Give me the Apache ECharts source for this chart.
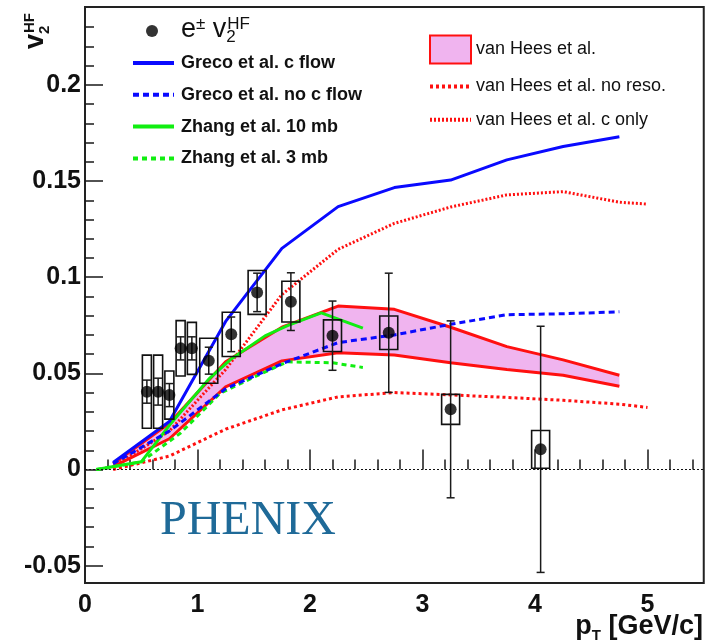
<!DOCTYPE html>
<html>
<head>
<meta charset="utf-8">
<script src="https://cdn.jsdelivr.net/npm/echarts@6/dist/echarts.min.js"></script>
<style>
  html, body { margin: 0; padding: 0; background: #fff; }
  #chart { width: 715px; height: 643px; }
</style>
</head>
<body>
<div id="chart"></div>
<script>
// PHENIX heavy-flavour electron v2 data
const ptX = [0.55, 0.65, 0.75, 0.85, 0.95, 1.1, 1.3, 1.53, 1.83, 2.2, 2.7, 3.25, 4.05];
const v2 = [0.0405, 0.0405, 0.0387, 0.063, 0.063, 0.0566, 0.0703, 0.0921, 0.0873, 0.0696, 0.0711, 0.0313, 0.0105];
const statErr = [0.006, 0.007, 0.006, 0.006, 0.006, 0.007, 0.009, 0.010, 0.015, 0.018, 0.031, 0.046, 0.064];
const sysErr = [0.019, 0.019, 0.0125, 0.0144, 0.0135, 0.0117, 0.0115, 0.0114, 0.0106, 0.0082, 0.0087, 0.0078, 0.0098];

// model curves
const grecoX = [0.25, 0.75, 1.25, 1.75, 2.25, 2.75, 3.25, 3.75, 4.25, 4.75];
const grecoFlow = [0.0037, 0.025, 0.077, 0.115, 0.1367, 0.1466, 0.1505, 0.161, 0.168, 0.173];
const grecoNoFlow = [0.003, 0.02, 0.042, 0.055, 0.066, 0.07, 0.0755, 0.0805, 0.081, 0.082];

const zhang10X = [0.1, 0.5, 0.75, 1.1, 1.3, 1.6, 1.8, 2.1, 2.47];
const zhang10 = [0, 0.004, 0.023, 0.047, 0.0575, 0.0695, 0.0748, 0.0815, 0.0735];
const zhang3X = [0.1, 0.5, 0.85, 1.2, 1.5, 1.8, 2.2, 2.47];
const zhang3 = [0, 0.004, 0.019, 0.0396, 0.048, 0.056, 0.0555, 0.0531];

const vhBandX = [0.25, 0.75, 1.25, 1.75, 2.25, 2.75, 3.25, 3.75, 4.25, 4.75];
const vhUpper = [0.003, 0.024, 0.056, 0.074, 0.085, 0.0833, 0.074, 0.0639, 0.057, 0.049];
const vhLower = [0.0015, 0.016, 0.043, 0.0565, 0.0607, 0.0595, 0.0555, 0.052, 0.049, 0.0433];

const vhX = [0.25, 0.75, 1.25, 1.75, 2.25, 2.75, 3.25, 3.75, 4.25, 4.75, 5.0];
const vhNoReso = [0.0, 0.007, 0.021, 0.031, 0.0378, 0.04, 0.0388, 0.0375, 0.036, 0.034, 0.0323];
const vhCOnly = [0.0015, 0.02, 0.052, 0.091, 0.1145, 0.128, 0.1365, 0.1428, 0.1445, 0.139, 0.138];

// axis ticks
const xTicks = [0, 1, 2, 3, 4, 5];
const yTicks = [-0.05, 0, 0.05, 0.1, 0.15, 0.2];
const yTickLabels = ['-0.05', '0', '0.05', '0.1', '0.15', '0.2'];

const xMinor = [];
for (let i = 0; i <= 27; i++) xMinor.push(+(i * 0.2).toFixed(2));
const yMinor = [];
for (let i = -5; i <= 23; i++) yMinor.push(+(i * 0.01).toFixed(2));

const pairs = (xs, ys) => xs.map((x, i) => [x, ys[i]]);

const EHF = 'e± v2HF';
const RED = '#ff1010';
const BLUE = '#0a0aff';
const GREEN = '#11ee11';
const PINK = '#f0b4ef';
const FONT = '"Liberation Sans", Arial, sans-serif';

const chart = echarts.init(document.getElementById('chart'));

function renderBand(params, api) {
  if (params.dataIndex !== 0) return;
  const pts = [];
  vhBandX.forEach((x, i) => pts.push(api.coord([x, vhUpper[i]])));
  for (let i = vhBandX.length - 1; i >= 0; i--) pts.push(api.coord([vhBandX[i], vhLower[i]]));
  return { type: 'polygon', shape: { points: pts }, style: { fill: PINK } };
}

function renderErrors(params, api) {
  const x = api.value(0), y = api.value(1), st = api.value(2), sy = api.value(3);
  const c = api.coord([x, y]);
  const sTop = api.coord([x, y + st])[1];
  const sBot = api.coord([x, y - st])[1];
  const bTop = api.coord([x, y + sy])[1];
  const bBot = api.coord([x, y - sy])[1];
  const hw = params.dataIndex < 5 ? 4.5 : 9;
  const cap = 4;
  const stroke = { stroke: '#1a1a1a', lineWidth: 1.5 };
  return {
    type: 'group',
    children: [
      { type: 'rect', shape: { x: c[0] - hw, y: bTop, width: hw * 2, height: bBot - bTop },
        style: { fill: 'none', stroke: '#111', lineWidth: 1.6 } },
      { type: 'line', shape: { x1: c[0], y1: sTop, x2: c[0], y2: sBot }, style: stroke },
      { type: 'line', shape: { x1: c[0] - cap, y1: sTop, x2: c[0] + cap, y2: sTop }, style: stroke },
      { type: 'line', shape: { x1: c[0] - cap, y1: sBot, x2: c[0] + cap, y2: sBot }, style: stroke }
    ]
  };
}

function lineSeries(name, xs, ys, color, type) {
  return {
    name: name,
    type: 'line',
    data: pairs(xs, ys),
    symbol: 'none',
    lineStyle: { color: color, width: 3, type: type || 'solid' },
    itemStyle: { color: color },
    z: 3
  };
}

const tickLine = { color: '#1a1a1a', width: 1.5 };

const option = {
  animation: false,
  backgroundColor: '#fff',
  grid: {
    left: 85, right: 11.25, top: 7, bottom: 60,
    show: true, borderColor: '#222', borderWidth: 2, backgroundColor: 'transparent'
  },
  xAxis: [
    {
      type: 'value', min: 0, max: 5.5, position: 'bottom',
      axisLine: { show: false },
      splitLine: { show: false },
      axisTick: { inside: true, length: 20, lineStyle: tickLine, customValues: xTicks },
      axisLabel: {
        customValues: xTicks, margin: 10, color: '#111',
        fontSize: 25, fontWeight: 'bold', fontFamily: FONT,
        formatter: (v) => String(v)
      }
    },
    {
      type: 'value', min: 0, max: 5.5, position: 'bottom',
      axisLine: { show: false },
      splitLine: { show: false },
      axisTick: { inside: true, length: 10, lineStyle: tickLine, customValues: xMinor },
      axisLabel: { show: false }
    }
  ],
  yAxis: [
    {
      type: 'value', min: -0.059, max: 0.2405, position: 'left',
      axisLine: { show: false },
      splitLine: { show: false },
      axisTick: { inside: true, length: 18, lineStyle: tickLine, customValues: yTicks },
      axisLabel: {
        customValues: yTicks, margin: 4, color: '#111',
        fontSize: 25, fontWeight: 'bold', fontFamily: FONT,
        formatter: (v) => {
          const i = yTicks.findIndex((t) => Math.abs(t - v) < 1e-6);
          return i >= 0 ? yTickLabels[i] : '';
        }
      }
    },
    {
      type: 'value', min: -0.059, max: 0.2405, position: 'left',
      axisLine: { show: false },
      splitLine: { show: false },
      axisTick: { inside: true, length: 9, lineStyle: tickLine, customValues: yMinor },
      axisLabel: { show: false }
    }
  ],
  legend: [
    {
      data: [{ name: EHF, icon: 'circle' }],
      orient: 'vertical', left: 146, top: 16, padding: 0,
      itemWidth: 12, itemHeight: 12,
      formatter: () => '{e|e}{pm|±}{e| v}{sub|2}{sup|HF}',
      textStyle: {
        color: '#111', fontFamily: FONT, padding: [0, 0, 0, 18],
        rich: {
          e: { fontSize: 27, lineHeight: 30, verticalAlign: 'top', fontFamily: FONT, color: '#111' },
          pm: { fontSize: 17, lineHeight: 15, verticalAlign: 'top', fontFamily: FONT, color: '#111' },
          sub: { fontSize: 17, lineHeight: 14, verticalAlign: 'bottom', width: 1, fontFamily: FONT, color: '#111' },
          sup: { fontSize: 17, lineHeight: 16, verticalAlign: 'top', fontFamily: FONT, color: '#111' }
        }
      }
    },
    {
      data: ['Greco et al. c flow', 'Greco et al. no c flow', 'Zhang et al. 10 mb', 'Zhang et al. 3 mb'],
      orient: 'vertical', left: 131, top: 53, padding: 0,
      itemWidth: 41, itemHeight: 14, itemGap: 11.8,
      itemStyle: { opacity: 0 },
      lineStyle: { width: 4 },
      textStyle: { color: '#111', fontSize: 18, fontWeight: 'bold', fontFamily: FONT, lineHeight: 20, padding: [0, 0, 0, 2] }
    },
    {
      data: [
        { name: 'van Hees et al.', icon: 'rect', itemStyle: { color: PINK, borderColor: RED, borderWidth: 2, opacity: 1 } },
        'van Hees et al. no reso.',
        'van Hees et al. c only'
      ],
      orient: 'vertical', left: 428, top: 34.5, padding: 0,
      itemWidth: 41, itemHeight: 28, itemGap: 10.8,
      itemStyle: { opacity: 0 },
      lineStyle: { width: 4 },
      textStyle: { color: '#111', fontSize: 18, fontFamily: FONT, lineHeight: 20 }
    }
  ],
  graphic: [
    {
      type: 'text', x: 22, y: 49, rotation: Math.PI / 2,
      style: {
        text: '{v|v}{sub|2}{sup|HF}',
        align: 'left', verticalAlign: 'top',
        rich: {
          v: { fontSize: 27, fontWeight: 'bold', lineHeight: 30, verticalAlign: 'top', fontFamily: FONT, fill: '#111' },
          sub: { fontSize: 15, fontWeight: 'bold', lineHeight: 6, verticalAlign: 'bottom', width: 1, fontFamily: FONT, fill: '#111' },
          sup: { fontSize: 15, fontWeight: 'bold', lineHeight: 16, verticalAlign: 'top', fontFamily: FONT, fill: '#111' }
        }
      }
    },
    {
      type: 'text', x: 703, y: 643,
      style: {
        text: '{p|p}{t|T}{p| [GeV/c]}',
        align: 'right', verticalAlign: 'bottom',
        rich: {
          p: { fontSize: 27, fontWeight: 'bold', lineHeight: 30, verticalAlign: 'top', fontFamily: FONT, fill: '#111' },
          t: { fontSize: 15, fontWeight: 'bold', lineHeight: 14, verticalAlign: 'bottom', fontFamily: FONT, fill: '#111' }
        }
      }
    },
    {
      type: 'text', x: 160, y: 521,
      style: {
        text: 'PHENIX',
        fontSize: 48, fontFamily: '"Liberation Serif", "Times New Roman", serif',
        fill: '#1f6a98', verticalAlign: 'middle', align: 'left'
      }
    }
  ],
  series: [
    {
      name: 'van Hees et al.',
      type: 'custom',
      renderItem: renderBand,
      data: [[vhBandX[0], vhUpper[0]]],
      itemStyle: { color: PINK, borderColor: RED, borderWidth: 2 },
      z: 1
    },
    lineSeries('vhUpper', vhBandX, vhUpper, RED),
    lineSeries('vhLower', vhBandX, vhLower, RED),
    lineSeries('van Hees et al. no reso.', vhX, vhNoReso, RED, [3, 3]),
    lineSeries('van Hees et al. c only', vhX, vhCOnly, RED, [2, 2]),
    lineSeries('Zhang et al. 3 mb', zhang3X, zhang3, GREEN, [5, 4]),
    lineSeries('Zhang et al. 10 mb', zhang10X, zhang10, GREEN),
    lineSeries('Greco et al. no c flow', grecoX, grecoNoFlow, BLUE, [6, 4]),
    lineSeries('Greco et al. c flow', grecoX, grecoFlow, BLUE),
    {
      name: 'errors',
      type: 'custom',
      renderItem: renderErrors,
      data: ptX.map((x, i) => [x, v2[i], statErr[i], sysErr[i]]),
      encode: { x: 0, y: 1 },
      z: 4,
      markLine: {
        silent: true, symbol: 'none',
        label: { show: false },
        lineStyle: { color: '#111', width: 1, type: [2, 2] },
        data: [{ yAxis: 0 }]
      }
    },
    {
      name: EHF,
      type: 'scatter',
      data: pairs(ptX, v2),
      symbol: 'circle',
      symbolSize: 12,
      itemStyle: { color: '#000' },
      z: 5
    }
  ]
};

chart.setOption(option);
</script>
</body>
</html>
